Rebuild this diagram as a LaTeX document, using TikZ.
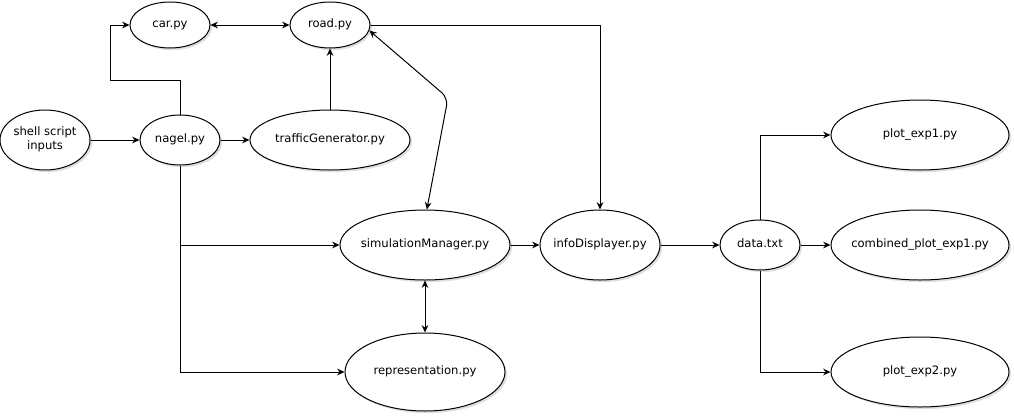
\documentclass[tikz,border=0pt]{standalone}
\usepackage{fontspec}
\setmainfont{DejaVu Sans}
\usetikzlibrary{arrows.meta, shapes.geometric, shadows}

% label of fixed-size ellipse: zero width so the shape keeps its size
\newcommand{\modlabel}[1]{\makebox[0pt]{\begin{tabular}{@{}c@{}}#1\end{tabular}}}

\begin{document}
\begin{tikzpicture}[
    x=0.75pt, y=-0.75pt,
    font=\fontsize{8.7}{10.5}\selectfont,
    module/.style = {ellipse, draw=black, line width=0.75pt, fill=white, inner sep=0pt,
                     drop shadow={shadow xshift=1.6pt, shadow yshift=-1.6pt, opacity=0.25}},
    sz/.style 2 args = {minimum width=#1*0.75pt, minimum height=#2*0.75pt},
    link/.style  = {line width=0.75pt, -{Stealth[length=5.5pt, width=5pt]}},
    dlink/.style = {line width=0.75pt, {Stealth[length=5.5pt, width=5pt]}-{Stealth[length=5.5pt, width=5pt]}},
]
\useasboundingbox (0,0) rectangle (1014,415);

%% ---- Column positions (x, in px) ----
\def\xN{180}     % nagel
\def\xR{330}     % road / traffic
\def\xS{425}     % simulation
\def\xP{920}     % plot scripts

%% ---- Nodes ----
\node[module, sz={90}{60}]  (shell) at (45, 140)    {\modlabel{shell script\\inputs}};
\node[module, sz={80}{50}]  (nagel) at (\xN, 140)   {\modlabel{nagel.py}};
\node[module, sz={160}{60}] (traffic) at (\xR, 140) {\modlabel{trafficGenerator.py}};
\node[module, sz={80}{46}]  (car) at (170, 25)      {\modlabel{car.py}};
\node[module, sz={80}{46}]  (road) at (\xR, 25)     {\modlabel{road.py}};
\node[module, sz={170}{70}] (sim) at (\xS, 245)     {\modlabel{simulationManager.py}};
\node[module, sz={160}{78}] (repr) at (\xS, 372)    {\modlabel{representation.py}};
\node[module, sz={120}{70}] (info) at (600, 245)    {\modlabel{infoDisplayer.py}};
\node[module, sz={80}{50}]  (data) at (760, 245)    {\modlabel{data.txt}};
\node[module, sz={178}{70}] (plotA) at (\xP, 135)   {\modlabel{plot\_exp1.py}};
\node[module, sz={178}{70}] (comb) at (\xP, 245)    {\modlabel{combined\_plot\_exp1.py}};
\node[module, sz={178}{70}] (plotB) at (\xP, 372)   {\modlabel{plot\_exp2.py}};

%% ---- Bend points ----
\coordinate (carbend) at (110, 80);
\coordinate (roadbend) at (448, 98);
\coordinate (split) at (nagel |- sim);

%% ---- Connectors ----
\draw[link] (shell) -- (nagel);
\draw[link] (nagel) -- (traffic);
\draw[link] (nagel.north) |- (carbend) |- (car.west);
\draw[dlink] (car) -- (road);
\draw[link] (traffic) -- (road);
\draw[link] (road.east) -| (info.north);
\draw[dlink, rounded corners=6pt] (road.-8) -- (roadbend) -- (sim.87);

\draw[link] (nagel.south) |- (repr.west);
\draw[link] (split) -- (sim.west);
\draw[dlink] (sim) -- (repr);
\draw[link] (sim) -- (info);
\draw[link] (info) -- (data);

\draw[link] (data.north) |- (plotA.west);
\draw[link] (data) -- (comb);
\draw[link] (data.south) |- (plotB.west);

\end{tikzpicture}
\end{document}
